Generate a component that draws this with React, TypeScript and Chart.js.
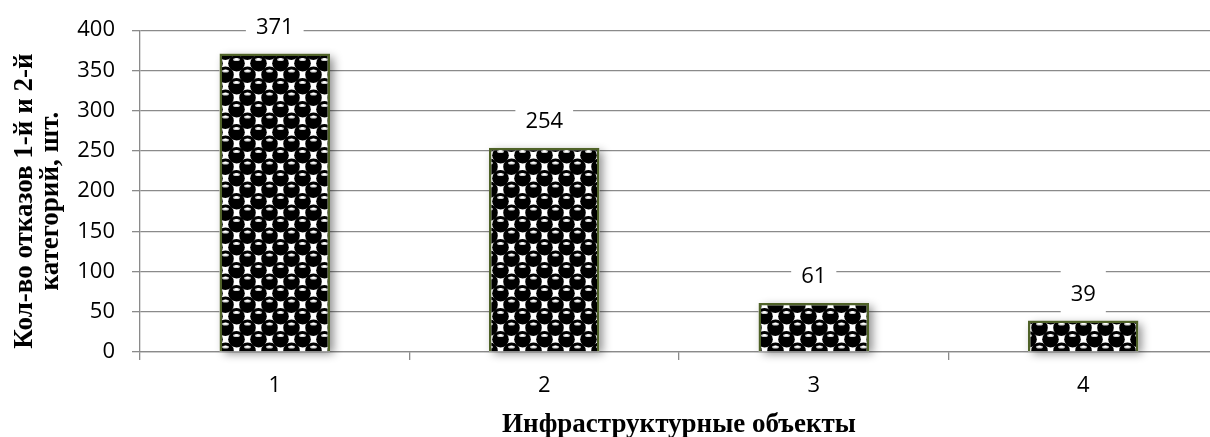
import React, { useEffect, useRef } from "react";
import { Chart, registerables } from "chart.js";

Chart.register(...registerables);

// Infrastructure object categories and the number of 1st/2nd category failures
const categories = ["1", "2", "3", "4"];
const failures = [371, 254, 61, 39];
const yTickValues = [0, 50, 100, 150, 200, 250, 300, 350, 400];
const yTitleLines = ["Кол-во отказов 1-й и 2-й", "категорий, шт."];
const xTitle = "Инфраструктурные объекты";

const CANVAS_W = 1230;
const CANVAS_H = 437;
const GRID = "#8a8a8a";
const TICK_FONT = { family: "'Open Sans', sans-serif", size: 22 };
const TITLE_FONT = "bold 27px 'Liberation Serif', 'Times New Roman', serif";

// "Sphere" fill: staggered black balls with a light cap, on white
function makeSpherePattern(): CanvasPattern | string {
  const w = 22;
  const h = 23;
  const c = document.createElement("canvas");
  c.width = w;
  c.height = h;
  const g = c.getContext("2d");
  if (!g) return "#000";
  g.fillStyle = "#fff";
  g.fillRect(0, 0, w, h);
  const centers: [number, number][] = [];
  for (const [bx, by] of [
    [5.5, 5.75],
    [16.5, 17.25],
  ]) {
    for (const dx of [-w, 0, w]) {
      for (const dy of [-h, 0, h]) centers.push([bx + dx, by + dy]);
    }
  }
  for (const [cx, cy] of centers) {
    g.beginPath();
    g.arc(cx, cy, 8.3, 0, Math.PI * 2);
    g.fillStyle = "#000";
    g.fill();
  }
  for (const [cx, cy] of centers) {
    g.beginPath();
    g.ellipse(cx, cy - 3.8, 3.4, 1.5, 0, 0, Math.PI * 2);
    g.fillStyle = "#d0d0d0";
    g.fill();
    g.beginPath();
    g.ellipse(cx, cy - 4.1, 2, 0.8, 0, 0, Math.PI * 2);
    g.fillStyle = "#ffffff";
    g.fill();
  }
  return g.createPattern(c, "repeat") || "#000";
}

// Soft drop shadow behind each bar (drawn before the bars themselves)
const barShadow = {
  id: "barShadow",
  beforeDatasetsDraw(chart: any) {
    const ctx = chart.ctx;
    const meta = chart.getDatasetMeta(0);
    ctx.save();
    ctx.shadowColor = "rgba(0,0,0,0.45)";
    ctx.shadowBlur = 9;
    ctx.shadowOffsetX = 4;
    ctx.shadowOffsetY = 3;
    ctx.fillStyle = "#fff";
    meta.data.forEach((bar: any) => {
      const half = bar.width / 2;
      ctx.fillRect(bar.x - half, bar.y, bar.width, bar.base - bar.y);
    });
    ctx.restore();
  },
};

// Value labels on white boxes above the bars, plus the axis titles
const labelsAndTitles = {
  id: "labelsAndTitles",
  afterDraw(chart: any) {
    const ctx = chart.ctx;
    const meta = chart.getDatasetMeta(0);
    ctx.save();
    ctx.font = `${TICK_FONT.size}px ${TICK_FONT.family}`;
    ctx.textAlign = "center";
    ctx.textBaseline = "middle";
    meta.data.forEach((bar: any, i: number) => {
      const text = String(failures[i]);
      const cx = bar.x;
      const cy = bar.y - 27;
      const tw = ctx.measureText(text).width;
      ctx.fillStyle = "#fff";
      ctx.fillRect(cx - tw / 2 - 10, cy - 24, tw + 20, 44);
      ctx.fillStyle = "#000";
      ctx.fillText(text, cx, cy + 1);
    });

    const area = chart.chartArea;
    ctx.font = TITLE_FONT;
    ctx.fillStyle = "#000";
    ctx.textAlign = "center";
    ctx.textBaseline = "alphabetic";
    ctx.fillText(xTitle, (area.left + area.right) / 2, 432);

    ctx.translate(32, (area.top + area.bottom) / 2 + 10);
    ctx.rotate(-Math.PI / 2);
    yTitleLines.forEach((line, i) => ctx.fillText(line, 0, i * 26));
    ctx.restore();
  },
};

export default function App() {
  const canvasRef = useRef<HTMLCanvasElement | null>(null);

  useEffect(() => {
    const canvas = canvasRef.current;
    if (!canvas) return;
    const chart = new Chart(canvas, {
      type: "bar",
      data: {
        labels: categories,
        datasets: [
          {
            data: failures,
            backgroundColor: makeSpherePattern() as any,
            borderColor: "#4f6228",
            borderWidth: 2.5,
            barPercentage: 0.41,
            categoryPercentage: 1,
          },
        ],
      },
      options: {
        animation: false,
        responsive: false,
        devicePixelRatio: 1,
        layout: { padding: { top: 15, right: 12, left: 0, bottom: 0 } },
        plugins: {
          legend: { display: false },
          tooltip: { enabled: false },
          title: { display: false },
        },
        scales: {
          x: {
            grid: {
              display: true,
              drawOnChartArea: false,
              drawTicks: true,
              tickLength: 8,
              color: GRID,
              lineWidth: 1.3,
              offset: true,
            },
            border: { display: true, color: GRID, width: 1.3 },
            ticks: { font: TICK_FONT, color: "#000", padding: 13 },
            afterFit(scale: any) {
              scale.height = 85;
            },
          },
          y: {
            min: 0,
            max: 400,
            grid: { color: GRID, lineWidth: 1.3, tickLength: 8 },
            border: { display: true, color: GRID, width: 1.3 },
            ticks: { font: TICK_FONT, color: "#000", padding: 17 },
            afterBuildTicks(scale: any) {
              scale.ticks = yTickValues.map((v) => ({ value: v }));
            },
            afterFit(scale: any) {
              scale.width = 140;
            },
          },
        },
      },
      plugins: [barShadow, labelsAndTitles],
    });
    return () => chart.destroy();
  }, []);

  return (
    <div style={{ position: "fixed", left: 0, top: 0, width: 1210, height: 437, overflow: "hidden", background: "#fff" }}>
      <canvas
        ref={canvasRef}
        width={CANVAS_W}
        height={CANVAS_H}
        style={{ display: "block", width: CANVAS_W, height: CANVAS_H }}
      />
    </div>
  );
}
